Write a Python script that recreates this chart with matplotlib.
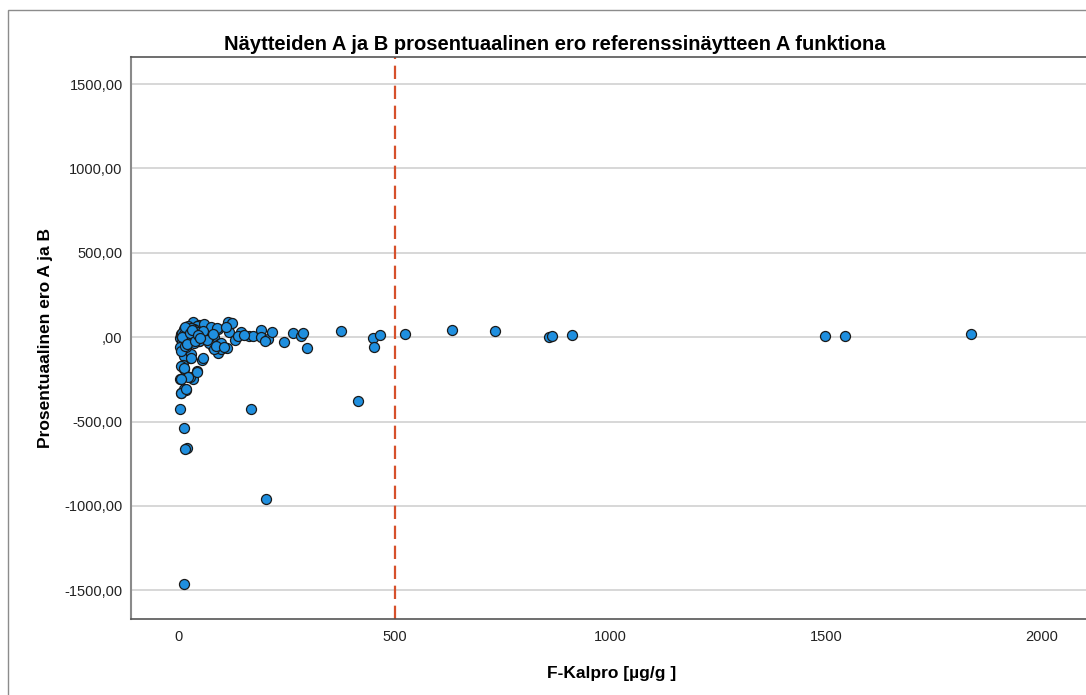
import matplotlib
matplotlib.use("Agg")
import matplotlib.pyplot as plt
from matplotlib.patches import Rectangle

plt.rcParams['font.family'] = ['Liberation Sans', 'DejaVu Sans']

# F-Kalpro (x) and prosentuaalinen ero (y)
kalpro = [
    376, 451, 466, 453, 524, 634, 732, 858, 865, 912, 1498, 1545, 1836,
    5, 16, 3, 167, 416, 12, 19, 15, 201, 12,
    32, 47, 121, 144, 117, 130, 163, 171, 190, 190, 206, 200, 216, 243, 264,
    283, 287, 297, 111, 91, 82, 80, 90, 96, 63, 74, 53, 47, 24, 53, 26, 12,
    9, 12, 43, 32, 26, 3, 12, 6,
    43, 59, 74, 88, 113, 12, 5, 9, 24, 51, 47, 67, 70, 94, 97, 82, 28, 55,
    16, 36, 20, 123, 109, 97,
    28, 5, 12, 42, 20, 5, 16,
    2, 4, 7, 8, 10, 14, 18, 22, 26, 30, 34, 38, 3, 6, 11, 15, 21, 27, 33, 40,
    45, 57, 65, 78, 86, 104, 138, 152, 8, 13, 19, 25, 31, 37, 44, 50,
]
ero = [
    36, -6, 14, -57, 18, 41, 39, 2, 6, 10, 8, 4, 16,
    -328, -314, -427, -427, -378, -536, -658, -662, -961, -1465,
    87, 71, 83, 31, 31, -18, 4, 4, 43, -2, -12, -25, 31, -28, 22,
    8, 22, -67, -67, 47, 2, -61, -91, -41, 47, 28, 8, -22, -22, -134, -121, -111,
    -166, -190, -200, -245, -239, -245, -308, -328,
    67, 77, 58, 52, 87, 47, 18, -22, -12, 18, -22, 8, -32, -41, -71, -71, -101, -121,
    -61, 47, 67, 83, 58, -32,
    -121, -170, -184, -204, -239, -249, -308,
    -5, 10, -30, 25, -45, 5, -15, 35, -8, 15, -35, 40, -60, -80, 20, -50, -5, 55, 10, -10,
    30, 35, -15, 20, -50, -60, 5, 15, 0, 60, -40, 25, 45, -25, 12, -5,
]

ytick_vals = [-1500, -1000, -500, 0, 500, 1000, 1500]
ytick_labels = ['-1500,00', '-1000,00', '-500,00', ',00', '500,00', '1000,00', '1500,00']
xtick_vals = [0, 500, 1000, 1500, 2000]
raja = 500

fig = plt.figure(figsize=(10.86, 6.95), dpi=100)
fig.patches.append(Rectangle((8 / 1086, -0.1), 1.2, 1 - 10 / 695 + 0.1,
                             transform=fig.transFigure, fill=False,
                             edgecolor='#8c8c8c', linewidth=1))
ax = fig.add_axes([131 / 1086, 1 - 619 / 695, 1 - 131 / 1086 + 0.005, (619 - 57) / 695])

ax.set_xlim(-111, 2115)
ax.set_ylim(-1670, 1660)
ax.set_yticks(ytick_vals)
ax.set_yticklabels(ytick_labels)
ax.set_xticks(xtick_vals)
ax.grid(axis='y', color='#d4d4d4', linewidth=1.3)
ax.set_axisbelow(True)
ax.tick_params(length=0, labelsize=10.5, colors='#222222')
ax.tick_params(axis='y', pad=6)
ax.tick_params(axis='x', pad=8)

for side in ['top', 'bottom']:
    ax.spines[side].set_color('#555555')
    ax.spines[side].set_linewidth(1.2)
ax.spines['left'].set_color('#8a8a8a')
ax.spines['left'].set_linewidth(1.5)
ax.spines['right'].set_visible(False)

ax.axvline(raja, color='#d6502b', linewidth=1.6, linestyle=(0, (6, 3)), zorder=2)
ax.scatter(kalpro, ero, s=52, facecolor='#1f8fdf', edgecolor='#1a1a1a',
           linewidth=0.9, zorder=3)

fig.text(555 / 1086, 1 - 45 / 695, 'Näytteiden A ja B prosentuaalinen ero referenssinäytteen A funktiona',
         ha='center', va='center', fontsize=14.5, fontweight='bold')
ax.set_xlabel('F-Kalpro [µg/g ]', fontsize=12.5, fontweight='bold', labelpad=16)
ax.set_ylabel('Prosentuaalinen ero A ja B', fontsize=12.5, fontweight='bold', labelpad=8)

fig.savefig('out.png', dpi=100)
